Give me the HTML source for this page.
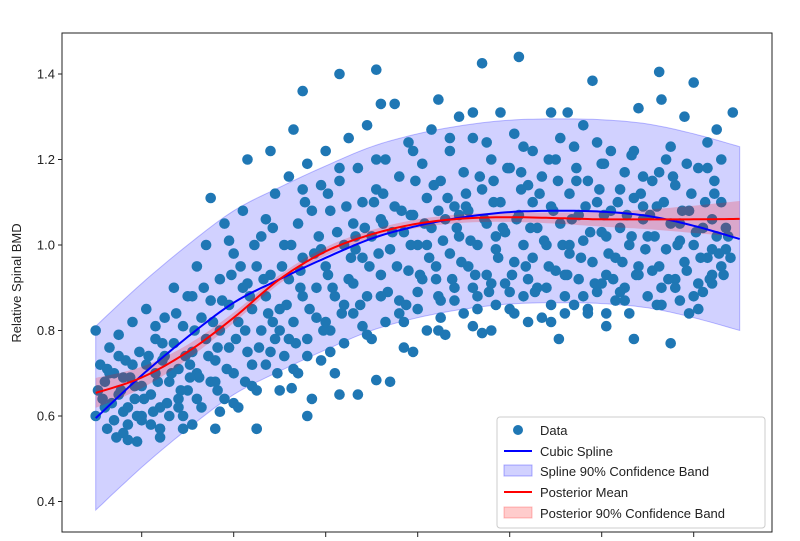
<!DOCTYPE html>
<html><head><meta charset="utf-8"><style>
html,body{margin:0;padding:0;background:#fff;}
svg{display:block;font-family:"Liberation Sans","DejaVu Sans",sans-serif;}
</style></head><body>
<svg id="chart" width="800" height="541" viewBox="0 0 800 541">
<rect x="0" y="0" width="800" height="541" fill="#fff"/>
<g id="bands"></g>
<g id="dots"></g>
<g id="lines"></g>
<rect x="62" y="33" width="710" height="499" fill="none" stroke="#222" stroke-width="1"/>
<g id="yaxis"></g>
<g id="xaxis"></g>
<text x="21" y="283" font-size="13" text-anchor="middle" transform="rotate(-90 21 283)" fill="#222">Relative Spinal BMD</text>
<g>
<rect x="497" y="417" width="268" height="111" rx="3" fill="#fff" fill-opacity="0.85" stroke="#ccc"/>
<circle cx="518" cy="430" r="5" fill="#1f77b4"/>
<text x="540" y="435" font-size="13" fill="#222">Data</text>
<line x1="504" y1="451" x2="532" y2="451" stroke="#0000ff" stroke-width="2"/>
<text x="540" y="456" font-size="13" fill="#222">Cubic Spline</text>
<rect x="504" y="465" width="28" height="11" fill="rgba(0,0,255,0.18)" stroke="rgba(0,0,255,0.3)"/>
<text x="540" y="476" font-size="13" fill="#222">Spline 90% Confidence Band</text>
<line x1="504" y1="492" x2="532" y2="492" stroke="#ff0000" stroke-width="2"/>
<text x="540" y="497" font-size="13" fill="#222">Posterior Mean</text>
<rect x="504" y="507" width="28" height="11" fill="rgba(255,0,0,0.2)" stroke="rgba(255,0,0,0.25)"/>
<text x="540" y="518" font-size="13" fill="#222">Posterior 90% Confidence Band</text>
</g>
</svg>
<script>
const yTicks = [0.4, 0.6, 0.8, 1.0, 1.2, 1.4];
const yTickLabels = ["0.4", "0.6", "0.8", "1.0", "1.2", "1.4"];
const xTicks = [10, 12, 14, 16, 18, 20, 22];
const curveAges = [9, 10, 11, 12, 13, 14, 15, 16, 17, 18, 19, 20, 21, 22, 23];
const splineMean = [0.595, 0.695, 0.785, 0.865, 0.92, 0.97, 1.015, 1.045, 1.065, 1.077, 1.08, 1.078, 1.068, 1.045, 1.014];
const splineUpper = [0.81, 0.91, 1.0, 1.08, 1.135, 1.185, 1.23, 1.26, 1.28, 1.292, 1.295, 1.293, 1.283, 1.26, 1.23];
const splineLower = [0.38, 0.48, 0.57, 0.65, 0.705, 0.755, 0.80, 0.83, 0.85, 0.862, 0.865, 0.863, 0.853, 0.83, 0.80];
const postMean = [0.654, 0.69, 0.75, 0.83, 0.92, 0.985, 1.025, 1.05, 1.062, 1.065, 1.063, 1.06, 1.06, 1.06, 1.061];
const postUpper = [0.689, 0.715, 0.767, 0.842, 0.93, 0.995, 1.035, 1.06, 1.072, 1.076, 1.076, 1.077, 1.083, 1.092, 1.103];
const postLower = [0.619, 0.665, 0.733, 0.818, 0.91, 0.975, 1.015, 1.04, 1.052, 1.054, 1.05, 1.043, 1.037, 1.028, 1.019];
const pointAges = [9.0,9.0,9.1,9.15,9.2,9.25,9.3,9.35,9.4,9.45,9.5,9.55,9.6,9.65,9.7,9.75,9.8,9.85,9.9,9.95,10.0,10.0,10.1,10.1,10.2,10.2,10.3,10.3,10.4,10.4,10.5,10.5,10.6,10.6,10.7,10.7,10.8,10.8,10.9,10.9,
11.0,11.0,11.1,11.1,11.2,11.2,11.3,11.3,11.4,11.4,11.5,11.5,11.5,11.6,11.6,11.7,11.7,11.8,11.8,11.9,11.9,12.0,12.0,12.1,12.1,12.2,12.2,12.3,12.3,12.4,12.4,12.5,12.5,12.6,12.6,12.7,12.7,12.8,12.8,12.9,12.9,13.0,13.0,13.1,13.1,13.2,13.2,13.3,13.3,13.4,13.4,13.5,13.5,13.6,13.6,13.7,13.7,13.8,13.8,13.9,13.9,
14.0,14.0,14.1,14.1,14.2,14.2,14.3,14.3,14.4,14.4,14.5,14.5,14.6,14.6,14.7,14.7,14.8,14.8,14.9,14.9,15.0,15.0,15.1,15.1,15.2,15.2,15.3,15.3,15.4,15.4,15.5,15.5,15.6,15.6,15.7,15.7,15.8,15.8,15.9,15.9,16.0,16.0,16.1,16.1,16.2,16.2,16.3,16.3,16.45,16.4,16.5,16.5,16.6,16.6,16.7,16.7,16.8,16.8,16.9,16.9,17.0,17.0,17.1,17.1,17.2,17.2,17.3,17.3,17.4,17.4,17.5,17.5,17.6,17.6,17.7,17.7,17.8,17.8,17.9,17.9,18.0,18.0,18.1,18.1,18.2,18.2,18.3,18.3,18.4,18.4,18.5,18.5,
18.6,18.6,18.7,18.7,18.8,18.9,18.9,19.0,19.0,19.07,19.1,19.2,19.26,19.3,19.3,19.4,19.4,19.5,19.5,19.6,19.6,19.7,19.7,19.8,19.8,19.9,19.9,20.0,20.0,20.1,20.1,20.2,20.2,20.3,20.3,20.4,20.4,20.5,20.5,20.6,20.6,20.7,20.7,20.8,20.8,20.9,20.9,21.0,21.0,21.1,21.1,21.25,21.2,21.3,21.3,21.4,21.4,21.5,21.5,21.6,21.6,21.7,21.7,21.8,21.8,21.9,21.9,22.0,22.0,22.1,22.1,22.2,22.2,22.3,22.3,22.4,22.4,22.5,22.5,22.6,22.6,22.7,22.85,22.7,
9.7,12.5,13.26,13.6,14.3,15.1,16.45,17.4,18.9,17.2,13.5,15.2,19.2,20.1,
9.05,9.2,9.3,9.4,9.5,9.6,9.7,9.8,9.9,10.05,10.15,10.25,10.35,10.45,10.55,10.65,10.75,10.85,10.95,11.05,
11.15,11.25,11.35,11.45,11.55,11.65,11.75,11.85,11.95,12.05,12.15,12.25,12.35,12.45,12.55,12.65,12.75,12.85,12.95,13.05,
13.15,13.25,13.35,13.45,13.55,13.65,13.75,13.85,13.95,14.05,14.15,14.25,14.35,14.45,14.55,14.65,14.75,14.85,14.95,15.05,
15.15,15.25,15.35,15.45,15.55,15.65,15.75,15.85,15.95,16.05,16.15,16.25,16.35,16.45,16.55,16.65,16.75,16.85,16.95,17.05,
17.15,17.25,17.35,17.45,17.55,17.65,17.75,17.85,17.95,18.05,18.15,18.25,18.35,18.45,18.55,18.65,18.75,18.85,18.95,19.05,
19.15,19.25,19.35,19.45,19.55,19.65,19.75,19.85,19.95,20.05,20.15,20.25,20.35,20.45,20.55,20.65,20.75,20.85,20.95,21.05,
21.15,21.25,21.35,21.45,21.55,21.65,21.75,21.85,21.95,22.05,22.15,22.25,22.35,22.45,22.55,22.65,22.75,22.8,22.6,22.4,
9.6,10.0,10.4,10.8,11.2,11.6,12.0,12.4,12.8,13.2,13.6,14.0,14.4,14.8,15.2,15.6,16.0,16.4,16.8,17.2,
17.6,18.0,18.4,18.8,19.2,19.6,20.0,20.4,20.8,21.2,21.6,22.0,22.4,9.5,10.3,11.1,11.9,12.7,13.5,14.3,
15.1,15.9,16.7,17.5,18.3,19.1,19.9,20.7,21.5,22.3,10.9,11.7,12.5,13.3,14.1,14.9,15.7,16.5,17.3,18.1,
18.9,19.7,20.5,21.3,22.1,9.25,9.85,10.45,11.05,11.65,12.25,12.85,13.45,14.05,14.65,15.25,15.85,16.45,17.05,17.65,
18.25,18.85,19.45,20.05,20.65,21.25,21.85,22.45,16.2,16.9,17.7,18.5,19.3,20.1,20.9,21.7,14.6,13.9,13.0,12.3];
const pointValues = [0.60,0.80,0.72,0.64,0.68,0.57,0.76,0.63,0.70,0.55,0.79,0.66,0.61,0.73,0.58,0.69,0.82,0.64,0.54,0.75,0.67,0.60,0.72,0.85,0.58,0.65,0.78,0.70,0.62,0.55,0.83,0.74,0.68,0.60,0.90,0.77,0.64,0.71,0.57,0.81,
0.66,0.88,0.75,0.58,0.95,0.70,0.83,0.62,0.78,1.00,0.68,1.11,0.87,0.73,0.57,0.92,0.80,0.64,1.05,0.76,0.86,0.70,0.98,0.82,0.62,1.08,0.90,0.75,1.20,0.85,0.67,0.95,0.57,0.80,1.02,0.72,0.88,1.22,0.93,0.78,1.12,0.85,0.66,1.00,0.74,0.92,1.16,0.82,1.27,0.70,1.05,0.88,0.97,0.78,1.19,0.64,1.08,0.90,0.83,1.14,0.73,
0.95,1.22,0.80,1.08,0.88,0.70,1.40,1.15,1.00,0.77,1.25,0.92,1.05,0.84,1.18,0.65,0.97,1.10,0.88,1.28,1.02,0.78,1.41,1.13,0.93,1.06,0.82,1.20,0.99,0.68,1.33,1.09,0.87,1.16,1.03,0.76,0.94,1.24,0.75,1.07,1.00,0.85,1.19,0.92,1.11,0.80,1.04,1.27,1.34,0.95,1.15,0.87,1.06,0.79,1.22,0.98,1.09,0.90,1.30,1.02,0.84,1.17,0.95,1.08,0.81,1.25,1.00,0.88,1.425,1.13,0.93,1.05,0.80,1.20,0.99,0.86,1.31,1.10,0.91,1.03,0.85,1.18,0.96,1.26,1.44,1.07,0.88,1.00,1.14,0.82,0.97,1.22,
1.04,0.90,1.16,0.83,1.00,1.31,1.09,0.94,1.20,0.78,1.05,0.88,1.31,1.12,0.98,1.23,0.86,1.07,0.92,1.28,1.01,0.84,1.15,1.384,0.96,1.10,0.89,1.19,1.03,0.93,0.81,1.08,1.22,0.97,0.87,1.13,1.04,0.90,1.17,1.00,0.84,0.78,1.11,1.32,0.95,1.06,1.16,0.88,1.02,0.94,1.15,1.405,1.09,0.90,1.34,1.20,0.99,0.77,1.05,0.92,1.14,1.01,0.87,1.30,0.96,1.08,0.84,1.38,1.00,0.91,1.18,1.04,0.89,1.24,0.97,1.06,0.93,1.02,1.27,0.95,1.10,0.99,1.31,1.04,
0.544,0.57,0.665,0.60,0.65,0.684,0.80,0.794,0.82,1.31,1.36,1.33,0.84,0.84,
0.66,0.62,0.70,0.59,0.65,0.69,0.62,0.72,0.60,0.64,0.74,0.61,0.68,0.77,0.63,0.70,0.84,0.66,0.74,0.72,
0.80,0.69,0.90,0.74,0.82,0.66,0.87,0.71,0.93,0.78,0.95,0.68,0.88,1.00,0.76,0.92,0.84,1.04,0.70,0.95,
0.86,1.00,0.77,0.94,1.10,0.85,0.98,1.02,0.80,1.12,0.90,1.03,0.84,1.09,0.97,1.02,0.86,1.04,0.95,1.10,
0.98,1.12,0.89,1.03,0.95,1.08,0.86,1.00,1.15,0.93,1.05,0.97,1.14,0.88,1.01,1.11,0.92,1.04,0.96,1.12,
1.01,0.93,1.16,1.06,0.89,1.10,0.97,1.04,1.18,0.93,1.06,1.13,0.95,1.04,0.89,1.12,1.01,0.95,1.08,1.15,
1.00,0.93,1.06,1.15,0.97,1.09,1.03,0.91,1.13,1.07,0.98,0.92,1.10,0.96,1.07,1.02,0.93,1.12,0.99,1.07,
1.02,0.95,1.10,0.92,1.16,1.00,1.08,0.94,1.12,1.03,0.97,1.10,0.92,1.15,0.98,0.93,1.02,0.97,1.20,0.99,
0.56,0.59,0.57,0.62,0.64,0.68,0.63,0.72,0.75,0.78,0.74,0.82,0.86,0.81,0.88,0.84,0.89,0.92,0.87,0.90,
0.91,0.89,0.92,0.90,0.93,0.88,0.91,0.89,0.93,0.86,0.90,0.88,0.91,0.74,0.81,0.88,1.01,1.06,1.13,1.18,
1.20,1.22,1.25,1.24,1.23,1.25,1.24,1.22,1.23,1.18,0.60,0.61,0.66,0.71,0.75,0.79,0.82,0.83,0.85,0.84,
0.86,0.85,0.87,0.86,0.85,0.71,0.67,0.73,0.69,0.76,0.80,0.82,0.90,0.93,0.99,1.05,1.07,1.08,1.09,1.15,
1.17,1.20,1.18,1.19,1.21,1.17,1.19,1.12,1.00,1.07,1.02,1.10,1.00,1.02,1.09,1.05,0.91,0.99,0.80,0.91];

const NS = "http://www.w3.org/2000/svg";
function xScale(a){ return 141.7 + (a - 10) * 46.0; }
function yScale(v){ return 245 - (v - 1.0) * 427.5; }
function mk(tag, attrs, parent){ const e = document.createElementNS(NS, tag); for (const k in attrs) e.setAttribute(k, attrs[k]); parent.appendChild(e); return e; }
function smoothPts(xs, ys){
  const P = xs.map((a,i)=>[xScale(a), yScale(ys[i])]);
  const out = [];
  for (let i = 0; i < P.length - 1; i++){
    const p0 = P[Math.max(0,i-1)], p1 = P[i], p2 = P[i+1], p3 = P[Math.min(P.length-1,i+2)];
    for (let s = 0; s < 10; s++){
      const t = s/10, t2 = t*t, t3 = t2*t;
      const f = k => 0.5*((2*p1[k]) + (-p0[k]+p2[k])*t + (2*p0[k]-5*p1[k]+4*p2[k]-p3[k])*t2 + (-p0[k]+3*p1[k]-3*p2[k]+p3[k])*t3);
      out.push([f(0), f(1)]);
    }
  }
  out.push(P[P.length-1]);
  return out;
}
function linePath(xs, ys){ return smoothPts(xs, ys).map((p,i)=>(i?"L":"M")+p[0].toFixed(1)+","+p[1].toFixed(1)).join(""); }
function bandPath(xs, lo, hi){
  const up = smoothPts(xs, hi), dn = smoothPts(xs, lo).reverse();
  return up.concat(dn).map((p,i)=>(i?"L":"M")+p[0].toFixed(1)+","+p[1].toFixed(1)).join("") + "Z";
}
const bands = document.getElementById("bands");
const sb = mk("path", {d: bandPath(curveAges, splineLower, splineUpper), fill: "rgba(0,0,255,0.18)", stroke: "rgba(0,0,255,0.25)"}, bands);


const dots = document.getElementById("dots");
for (let i = 0; i < pointAges.length; i++){
  const c = mk("circle", {cx: xScale(pointAges[i]).toFixed(1), cy: yScale(pointValues[i]).toFixed(1), r: 5.3, fill: "#1f77b4"}, dots);
  
  
}
const lines = document.getElementById("lines");
const pb = mk("path", {d: bandPath(curveAges, postLower, postUpper), fill: "rgba(255,0,0,0.2)", stroke: "none"}, lines);


const sl = mk("path", {d: linePath(curveAges, splineMean), fill: "none", stroke: "#0000ff", "stroke-width": 2}, lines);


const pl = mk("path", {d: linePath(curveAges, postMean), fill: "none", stroke: "#ff0000", "stroke-width": 2}, lines);


const yaxis = document.getElementById("yaxis");
yTicks.forEach((v,i)=>{
  const y = yScale(v);
  const t = mk("line", {x1: 58, x2: 62, y1: y, y2: y, stroke: "#222"}, yaxis);
  
  
  const l = mk("text", {x: 55, y: y + 4.5, "font-size": 13, "text-anchor": "end", fill: "#222"}, yaxis);
  l.textContent = yTickLabels[i];
  
  
});
const xaxis = document.getElementById("xaxis");
xTicks.forEach(a=>{
  const x = xScale(a);
  const t = mk("line", {x1: x, x2: x, y1: 532, y2: 537, stroke: "#222"}, xaxis);
  
  
});
</script>
</body></html>
